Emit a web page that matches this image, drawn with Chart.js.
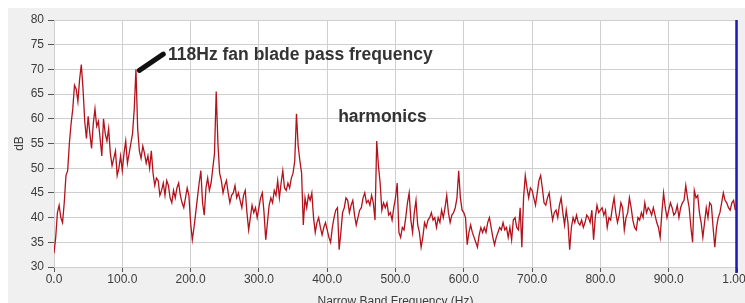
<!DOCTYPE html>
<html>
<head>
<meta charset="utf-8">
<script src="https://cdn.jsdelivr.net/npm/chart.js@4/dist/chart.umd.min.js"></script>
<style>
    body { margin: 0; background: #fff; }
    #moldura { position: relative; width: 745px; height: 303px; overflow: hidden; background: #fff; }
    #grafico { position: absolute; left: 0; top: 0; }
</style>
</head>
<body>
<div id="moldura">
    <canvas id="grafico" width="770" height="320"></canvas>
</div>
<script>
// --- DADOS ---

// passo da análise em banda estreita (Hz)
const passoFreq = 2.5;

// nível em dB, um valor a cada 2.5 Hz, de 0 a 997.5 Hz
const decibeis = [
    // 0 - 47.5 Hz
    32.8, 36, 41, 42.5, 40, 39, 43, 48.5, 49.5, 55, 59, 62, 66.8, 66, 63.5, 68, 71, 66, 59.5, 56,
    // 50
    60.5, 57, 54, 59, 62, 58.5, 59.5, 56, 52.5, 60, 57, 55.5, 58, 53, 50.5, 52, 53.5, 48.5, 50, 52.5,
    // 100
    49.5, 53, 55.5, 51, 53, 55, 57, 62, 70, 58, 53.5, 52, 54.5, 53, 51, 52.5, 50, 53.5, 49, 46.5,
    // 150
    48, 47.5, 44.5, 45.5, 47, 44.5, 47.5, 46.5, 44, 43, 45.5, 44, 46, 47, 44.5, 43, 42, 44, 46, 44.5,
    // 200
    39, 35.5, 38, 41, 44, 47, 49.5, 43, 40.5, 46, 48, 45.5, 47, 50, 53, 65.5, 55, 49, 47.5, 45,
    // 250
    46.5, 47.5, 45, 43, 44.5, 45, 46.5, 44, 45, 43.5, 42, 44.5, 45.5, 41, 37.5, 40, 42.5, 41, 42, 40,
    // 300
    42, 44, 45, 41, 35.5, 39, 42.5, 44, 43, 45.5, 44.5, 47.5, 44, 47, 49.5, 46, 45.5, 47, 46, 48,
    // 350
    49, 51.5, 61, 54.5, 51.5, 49, 38.5, 44, 42, 44.5, 43.5, 45, 40, 37, 39, 40, 38, 36.5, 38, 39,
    // 400
    37.5, 36, 35, 38, 40, 41.5, 42, 33.5, 37, 41, 42, 44, 43.5, 41, 42.5, 43.5, 40.5, 38.5, 40, 41.5,
    // 450
    42, 44, 45, 43, 43.5, 42.5, 44.5, 43, 39.5, 55.5, 50.5, 47, 41.5, 43, 42, 43, 40.5, 41, 39.5, 42,
    // 500
    44, 47, 37, 36, 38, 37.5, 40, 43, 45, 39.5, 37, 41, 43.5, 38.5, 37, 34, 36, 39, 38, 39.5,
    // 550
    40, 41, 39.5, 40, 38, 40, 39, 41.5, 40, 42, 44.5, 41, 39, 40.5, 41, 42, 44, 49.5, 44, 41.5,
    // 600
    41, 40, 34.5, 37, 38.5, 37, 36, 35, 34, 36.5, 38, 37, 38, 37, 39, 40, 38, 36, 34.5, 36,
    // 650
    37, 38, 37.5, 39, 37.5, 38, 36, 38, 35.5, 39.5, 40, 38, 37.5, 42, 34, 44, 48.5, 46, 44, 46,
    // 700
    45.5, 44, 42.5, 45, 47.5, 48.5, 46, 43, 42.5, 44, 45, 42, 39.5, 41, 41.5, 40, 42.5, 44, 41, 38.5,
    // 750
    41.5, 39, 33.5, 38, 40, 39, 40.5, 39, 38.5, 39.5, 38, 39, 40.5, 40, 39, 41.5, 35.5, 40, 42.5, 41,
    // 800
    41.5, 42, 40.5, 41.5, 38, 40, 39.5, 42, 44, 41, 39, 40.5, 43, 42, 37.5, 40, 41, 44, 42, 39.5,
    // 850
    38, 37.5, 40, 39.5, 41, 40, 43, 41, 42, 41.5, 40.5, 42, 40.5, 39, 38, 36, 41, 45, 42, 40,
    // 900
    41.5, 43, 42, 40.5, 41, 42.5, 40, 42, 43, 43.5, 46.5, 44, 42, 38, 35, 45.5, 44, 44.5, 41, 39,
    // 950
    36, 39, 42, 40, 43, 42.5, 38, 34, 38, 40, 41, 43, 45, 43.5, 43, 42, 41.5, 43, 43.5, 41.5
];

// rótulos do eixo X (um a cada 100 Hz)
const rotulosX = ['0.0', '100.0', '200.0', '300.0', '400.0', '500.0', '600.0', '700.0', '800.0', '900.0', '1.00k'];

// posição do cursor azul (Hz)
const cursorFreq = 1000;

// anotações: texto e posição em (Hz, dB)
const anotacoes = [
    { texto: '118Hz fan blade pass frequency', freq: 167, db: 72.9 },
    { texto: 'harmonics', freq: 416, db: 60.4 }
];
// seta da anotação: de (Hz, dB) até (Hz, dB)
const seta = [{ freq: 125, db: 69.8 }, { freq: 160, db: 73.1 }];

// --- MONTAGEM DOS PONTOS ---
const pontos = decibeis.map((v, i) => ({ x: i * passoFreq, y: v }));

// --- PLUGIN: fundo cinza, área branca, cursor e textos ---
const pluginFundo = {
    id: 'fundo',
    beforeDraw(chart) {
        const ctx = chart.ctx;
        const a = chart.chartArea;
        ctx.save();
        ctx.fillStyle = '#f0f0f0';
        ctx.fillRect(8, 8, chart.width - 8, chart.height - 8);
        ctx.fillStyle = '#ffffff';
        ctx.fillRect(a.left, a.top, a.right - a.left, a.bottom - a.top);
        ctx.restore();
    },
    afterDatasetsDraw(chart) {
        const ctx = chart.ctx;
        const sx = chart.scales.x;
        const sy = chart.scales.y;
        const a = chart.chartArea;
        ctx.save();

        // cursor vertical azul
        const xc = Math.round(sx.getPixelForValue(cursorFreq)) - 0.5;
        ctx.strokeStyle = '#1c1cb4';
        ctx.lineWidth = 2.5;
        ctx.beginPath();
        ctx.moveTo(xc, a.top);
        ctx.lineTo(xc, a.bottom + 6);
        ctx.stroke();

        // seta preta
        ctx.strokeStyle = '#111';
        ctx.lineWidth = 5;
        ctx.lineCap = 'round';
        ctx.beginPath();
        ctx.moveTo(sx.getPixelForValue(seta[0].freq), sy.getPixelForValue(seta[0].db));
        ctx.lineTo(sx.getPixelForValue(seta[1].freq), sy.getPixelForValue(seta[1].db));
        ctx.stroke();

        // textos
        ctx.fillStyle = '#333';
        ctx.font = 'bold 17.5px "Liberation Sans", Arial, sans-serif';
        ctx.textAlign = 'left';
        ctx.textBaseline = 'middle';
        anotacoes.forEach(n => {
            ctx.fillText(n.texto, sx.getPixelForValue(n.freq), sy.getPixelForValue(n.db));
        });
        ctx.restore();
    }
};

// --- GRÁFICO ---
const fonteEixo = { family: '"Liberation Sans", Arial, sans-serif', size: 12 };

new Chart(document.getElementById('grafico'), {
    type: 'line',
    data: {
        datasets: [{
            data: pontos,
            borderColor: '#b3121c',
            borderWidth: 1.3,
            pointRadius: 0,
            tension: 0,
            fill: false
        }]
    },
    options: {
        responsive: false,
        animation: false,
        devicePixelRatio: 1,
        layout: { padding: { left: 0, top: 20, right: 33, bottom: 0 } },
        plugins: { legend: { display: false }, tooltip: { enabled: false } },
        scales: {
            x: {
                type: 'linear',
                min: 0,
                max: 1000,
                grid: { color: '#cfcfcf', tickColor: '#555', tickLength: 5, lineWidth: 1 },
                border: { color: '#cfcfcf' },
                ticks: {
                    stepSize: 100,
                    autoSkip: false,
                    maxRotation: 0,
                    padding: 0,
                    color: '#3c3c3c',
                    font: fonteEixo,
                    callback: v => rotulosX[Math.round(v / 100)]
                },
                title: {
                    display: true,
                    text: 'Narrow Band Frequency (Hz)',
                    color: '#3c3c3c',
                    font: fonteEixo,
                    padding: { top: 0, bottom: 11 }
                },
                afterFit: s => { s.height = 320 - 267; }
            },
            y: {
                min: 30,
                max: 80,
                grid: { color: '#cfcfcf', tickColor: '#555', tickLength: 6, lineWidth: 1 },
                border: { color: '#cfcfcf' },
                ticks: {
                    stepSize: 5,
                    padding: 4,
                    color: '#3c3c3c',
                    font: fonteEixo
                },
                title: {
                    display: true,
                    text: 'dB',
                    color: '#3c3c3c',
                    font: fonteEixo,
                    padding: { top: 12, bottom: 0 }
                },
                afterFit: s => { s.width = 54; }
            }
        }
    },
    plugins: [pluginFundo]
});
</script>
</body>
</html>
